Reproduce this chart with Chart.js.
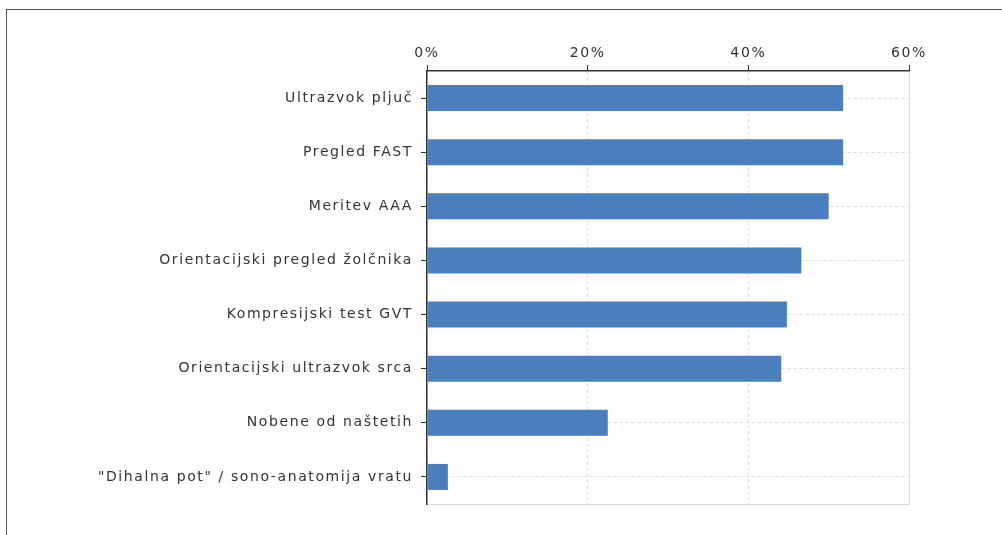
<!DOCTYPE html>
<html lang="sl">
<head>
<meta charset="utf-8">
<title>Ultrazvočne preiskave</title>
<script src="https://cdn.jsdelivr.net/npm/chart.js@4/dist/chart.umd.min.js"></script>
<style>
    html, body {
        margin: 0;
        padding: 0;
        background: #fff;
        overflow: hidden;
    }
    .frame {
        position: absolute;
        left: 6px;
        top: 9px;
        width: 1100px;
        height: 600px;
        border: 1px solid #555;
    }
    .chart-box {
        position: absolute;
        left: 0;
        top: 0;
        width: 1002px;
        height: 535px;
    }
</style>
</head>
<body>
<div class="frame"></div>
<div class="chart-box">
    <canvas id="usage-chart"></canvas>
</div>

<script>
const categories = [
    'Ultrazvok pljuč',
    'Pregled FAST',
    'Meritev AAA',
    'Orientacijski pregled žolčnika',
    'Kompresijski test GVT',
    'Orientacijski ultrazvok srca',
    'Nobene od naštetih',
    '"Dihalna pot" / sono-anatomija vratu'
];

// share of respondents, in percent
const percentValues = [51.8, 51.8, 50.0, 46.6, 44.8, 44.1, 22.5, 2.6];

const axisMax = 60;
const axisStep = 20;

const BAR_COLOR = '#4a7ebd';
const TEXT_COLOR = '#333';
const AXIS_COLOR = '#333';
const GRID_COLOR = '#dcdcdc';
const LETTER_SPACING = '1.6px';

Chart.defaults.font.family = '"DejaVu Sans", Verdana, sans-serif';
Chart.defaults.font.size = 14;
Chart.defaults.color = TEXT_COLOR;

// canvas state is reset on resize, so re-apply the spacing before layout and draw
const spacedText = {
    id: 'spacedText',
    beforeUpdate(chart) { chart.ctx.letterSpacing = LETTER_SPACING; },
    beforeDraw(chart) { chart.ctx.letterSpacing = LETTER_SPACING; }
};

function renderChart() {
    const ctx = document.getElementById('usage-chart').getContext('2d');
    return new Chart(ctx, {
        type: 'bar',
        data: {
            labels: categories,
            datasets: [{
                data: percentValues,
                backgroundColor: BAR_COLOR,
                borderWidth: 0,
                categoryPercentage: 1,
                barPercentage: 0.48
            }]
        },
        plugins: [spacedText],
        options: {
            indexAxis: 'y',
            responsive: true,
            maintainAspectRatio: false,
            animation: false,
            layout: {
                padding: { top: 9, left: 7, right: 93, bottom: 31 }
            },
            plugins: {
                legend: { display: false },
                tooltip: { enabled: false }
            },
            scales: {
                x: {
                    position: 'top',
                    min: 0,
                    max: axisMax,
                    afterFit: (scale) => { scale.height = 62; },
                    ticks: {
                        stepSize: axisStep,
                        padding: 3,
                        callback: (v) => v + '%'
                    },
                    grid: {
                        color: GRID_COLOR,
                        tickColor: AXIS_COLOR,
                        tickLength: 6
                    },
                    border: {
                        color: AXIS_COLOR,
                        width: 1.5,
                        // the last line closes the plot on the right, keep it solid
                        dash: (c) => (c.tick && c.tick.value === axisMax ? [] : [3, 3])
                    }
                },
                // bottom edge of the plot
                xBottom: {
                    position: 'bottom',
                    min: 0,
                    max: axisMax,
                    ticks: { display: false },
                    grid: { display: false, drawTicks: false },
                    border: { color: GRID_COLOR, width: 1 }
                },
                y: {
                    afterFit: (scale) => { scale.width = 420; },
                    ticks: {
                        padding: 8
                    },
                    grid: {
                        offset: false,
                        color: GRID_COLOR,
                        tickColor: AXIS_COLOR,
                        tickLength: 6
                    },
                    border: {
                        color: AXIS_COLOR,
                        width: 1.5,
                        dash: [3, 3]
                    }
                }
            }
        }
    });
}

document.addEventListener('DOMContentLoaded', () => {
    window.usageChart = renderChart();
});
</script>
</body>
</html>
